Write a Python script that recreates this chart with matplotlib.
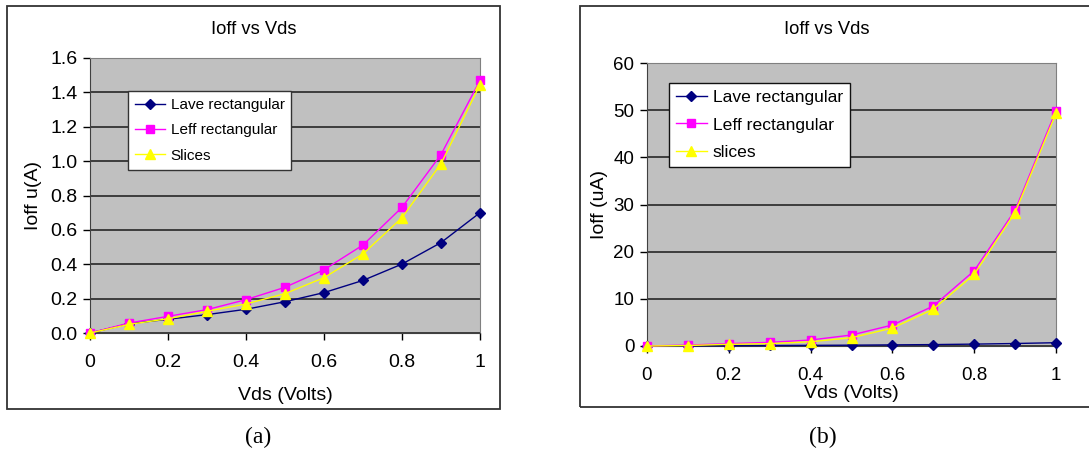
import matplotlib.pyplot as plt
from matplotlib.patches import Rectangle

plt.rcParams['font.family'] = ['Liberation Sans', 'DejaVu Sans']

# Datos
vds = [0.0, 0.1, 0.2, 0.3, 0.4, 0.5, 0.6, 0.7, 0.8, 0.9, 1.0]

# (a) Ioff u(A)
lave_a = [0.0, 0.054, 0.080, 0.107, 0.138, 0.182, 0.235, 0.306, 0.401, 0.526, 0.700]
leff_a = [0.0, 0.058, 0.097, 0.136, 0.194, 0.266, 0.368, 0.512, 0.731, 1.038, 1.470]
slices_a = [0.0, 0.050, 0.083, 0.126, 0.169, 0.229, 0.322, 0.460, 0.671, 0.985, 1.445]

# (b) Ioff (uA)
lave_b = [0.0, 0.05, 0.08, 0.11, 0.14, 0.18, 0.24, 0.30, 0.40, 0.53, 0.70]
leff_b = [0.0, 0.2, 0.5, 0.78, 1.27, 2.33, 4.45, 8.47, 15.95, 28.8, 49.9]
slices_b = [0.0, 0.1, 0.35, 0.5, 0.9, 1.76, 3.8, 7.8, 15.2, 28.3, 49.3]

xticks = [0, 0.2, 0.4, 0.6, 0.8, 1.0]
xticklabels = ['0', '0.2', '0.4', '0.6', '0.8', '1']

W, H = 1089, 454
fig = plt.figure(figsize=(W / 100, H / 100), dpi=100)


def px_box(l, t, r, b):
    return [l / W, 1 - b / H, (r - l) / W, (b - t) / H]


def style_ax(ax, ymax, ystep, yfmt, fs):
    ax.set_facecolor('#C0C0C0')
    ax.set_xlim(0, 1)
    ax.set_ylim(0, ymax)
    ax.set_xticks(xticks)
    ax.set_xticklabels(xticklabels)
    yt = [i * ystep for i in range(int(round(ymax / ystep)) + 1)]
    ax.set_yticks(yt)
    ax.set_yticklabels([yfmt.format(v) for v in yt])
    ax.tick_params(direction='out', length=5, width=1, labelsize=fs, pad=4)
    ax.tick_params(axis='x', pad=10)
    ax.yaxis.grid(True, color='#333333', linewidth=1.3)
    ax.set_axisbelow(True)
    for s in ['top', 'right']:
        ax.spines[s].set_color('#808080')
    for s in ['left', 'bottom']:
        ax.spines[s].set_color('#404040')


def draw_series(ax, lave, leff, sl, labels):
    ax.plot(vds, lave, color='#000080', marker='D', markersize=5.5, linewidth=1,
            label=labels[0], clip_on=False, zorder=3)
    ax.plot(vds, leff, color='#FF00FF', marker='s', markersize=6, linewidth=1,
            label=labels[1], clip_on=False, zorder=4)
    ax.plot(vds, sl, color='#FFFF00', marker='^', markersize=7.5, linewidth=1,
            label=labels[2], clip_on=False, zorder=5)


# Marcos exteriores
fig.patches.append(Rectangle((7 / W, 1 - 409 / H), 493 / W, 403 / H,
                             transform=fig.transFigure, fill=False,
                             edgecolor='#333333', linewidth=1.3))
fig.patches.append(Rectangle((580 / W, 1 - 407 / H), 520 / W, 401 / H,
                             transform=fig.transFigure, fill=False,
                             edgecolor='#333333', linewidth=1.3))

# (a)
ax1 = fig.add_axes(px_box(90, 58, 480, 333))
draw_series(ax1, lave_a, leff_a, slices_a,
            ['Lave rectangular', 'Leff rectangular', 'Slices'])
style_ax(ax1, 1.6, 0.2, '{:.1f}', 14)
ax1.set_xlabel('Vds (Volts)', fontsize=14, labelpad=12)
ax1.set_ylabel('Ioff u(A)', fontsize=14, labelpad=6)
leg1 = ax1.legend(loc='upper left', bbox_to_anchor=(0.097, 0.88), fontsize=11,
                  frameon=True, fancybox=False, edgecolor='#333333',
                  framealpha=1, borderpad=0.45, labelspacing=0.75,
                  handlelength=2.0, handletextpad=0.35, borderaxespad=0)
leg1.get_frame().set_linewidth(1.0)
fig.text(254 / W, 1 - 30 / H, 'Ioff vs Vds', fontsize=13.2,
         ha='center', va='center')

# (b)
ax2 = fig.add_axes(px_box(647, 63, 1056, 346))
draw_series(ax2, lave_b, leff_b, slices_b,
            ['Lave rectangular', 'Leff rectangular', 'slices'])
style_ax(ax2, 60, 10, '{:.0f}', 13.5)
ax2.set_xlabel('Vds (Volts)', fontsize=14, labelpad=1)
ax2.set_ylabel('Ioff (uA)', fontsize=14, labelpad=4)
leg2 = ax2.legend(loc='upper left', bbox_to_anchor=(0.054, 0.93), fontsize=12.6,
                  frameon=True, fancybox=False, edgecolor='#111111',
                  framealpha=1, borderpad=0.4, labelspacing=0.7,
                  handlelength=1.75, handletextpad=0.35, borderaxespad=0)
leg2.get_frame().set_linewidth(1.0)
fig.text(827 / W, 1 - 30 / H, 'Ioff vs Vds', fontsize=13.2,
         ha='center', va='center')

# Etiquetas (a) y (b)
fig.text(258 / W, 1 - 437 / H, '(a)', family='Liberation Serif', fontsize=17,
         ha='center', va='center')
fig.text(823 / W, 1 - 437 / H, '(b)', family='Liberation Serif', fontsize=17,
         ha='center', va='center')

fig.savefig('out.png', dpi=100)
